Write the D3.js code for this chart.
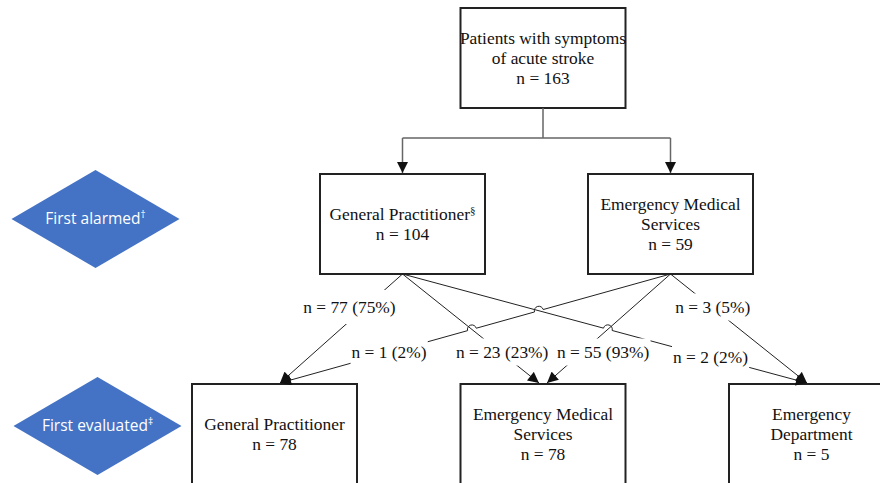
<!DOCTYPE html>
<html>
<head>
<meta charset="utf-8">
<script src="https://cdn.jsdelivr.net/npm/d3@7"></script>
<style>
  html, body { margin: 0; padding: 0; background: #fff; }
  svg { display: block; }
  .serif { font-family: "Liberation Serif", "Times New Roman", Times, "DejaVu Serif", serif; }
  .sans { font-family: "Open Sans", "Noto Sans", sans-serif; }
</style>
</head>
<body>
<script>
// ---------- DATA ----------
const levelNames = ["First alarmed", "First evaluated"];
const levelMarks = ["\u2020", "\u2021"];

const rootLines = ["Patients with symptoms", "of acute stroke"];
const rootN = 163;

const alarmedNames = ["General Practitioner", "Emergency Medical\nServices"];
const alarmedMarks = ["\u00A7", ""];
const alarmedN = [104, 59];

const evaluatedNames = ["General Practitioner", "Emergency Medical\nServices", "Emergency\nDepartment"];
const evaluatedN = [78, 78, 5];

const flowFrom = [0, 0, 0, 1, 1, 1];
const flowTo   = [0, 1, 2, 0, 1, 2];
const flowN    = [77, 23, 2, 1, 55, 3];
const flowPct  = [75, 23, 2, 2, 93, 5];

// ---------- LAYOUT ----------
const W = 880, H = 483;
const boxW = 165, boxH = 100;
const rowTop = d3.scaleOrdinal().domain(["root", "alarmed", "evaluated"]).range([8, 174, 384]);
const rootX = d3.scaleOrdinal().domain([0]).range([543]);
const alarmedX = d3.scaleOrdinal().domain([0, 1]).range([402.5, 670.5]);
const evaluatedX = d3.scaleOrdinal().domain([0, 1, 2]).range([274.5, 543, 811.5]);
const flowTipX = [280, 539, 807, 280, 547, 807];
const flowLabelY = [307, 352, 357, 352, 352, 307];
const flowLabelDx = [-16, 2, 0, -2, 21, 1];
const diamondCx = d3.scaleOrdinal().domain([0, 1]).range([95.5, 97.5]);
const diamondCy = d3.scaleOrdinal().domain([0, 1]).range([219, 426]);
const diamondHW = 84, diamondHH = 49;

const fontSize = 17.4, lineGap = 20;

const svg = d3.select("body").append("svg")
  .attr("width", W).attr("height", H)
  .attr("viewBox", `0 0 ${W} ${H}`);

const defs = svg.append("defs");
defs.append("marker")
  .attr("id", "arrowK")
  .attr("viewBox", "0 0 10 10")
  .attr("refX", 10).attr("refY", 5)
  .attr("markerUnits", "userSpaceOnUse")
  .attr("markerWidth", 12).attr("markerHeight", 11)
  .attr("orient", "auto")
  .append("path").attr("d", "M0,0 L10,5 L0,10 Z").attr("fill", "#111");

// ---------- DIAMONDS ----------
levelNames.forEach((name, i) => {
  const cx = diamondCx(i), cy = diamondCy(i);
  svg.append("path")
    .attr("d", `M${cx - diamondHW},${cy} L${cx},${cy - diamondHH} L${cx + diamondHW},${cy} L${cx},${cy + diamondHH} Z`)
    .attr("fill", "#4472C4");
  const t = svg.append("text")
    .attr("class", "sans")
    .attr("x", cx).attr("y", cy + 5)
    .attr("text-anchor", "middle")
    .attr("font-size", 15.5)
    .attr("fill", "#fff");
  t.append("tspan").text(name);
  t.append("tspan").attr("dy", -6).attr("font-size", 10).text(levelMarks[i]);
});

// ---------- BOXES ----------
function drawBox(cx, top, lines, mark) {
  svg.append("rect")
    .attr("x", cx - boxW / 2).attr("y", top)
    .attr("width", boxW).attr("height", boxH)
    .attr("fill", "#fff").attr("stroke", "#222").attr("stroke-width", 2);
  const cy = top + boxH / 2;
  const y0 = cy - (lines.length - 1) * lineGap / 2;
  lines.forEach((ln, k) => {
    const t = svg.append("text")
      .attr("class", "serif")
      .attr("x", cx).attr("y", y0 + k * lineGap)
      .attr("dy", "0.33em")
      .attr("text-anchor", "middle")
      .attr("font-size", fontSize)
      .attr("fill", "#111");
    t.append("tspan").text(ln);
    if (k === 0 && mark) t.append("tspan").attr("dy", -6).attr("font-size", 11).text(mark);
  });
}

drawBox(rootX(0), rowTop("root"), [...rootLines, `n = ${rootN}`], "");
alarmedNames.forEach((nm, i) => {
  drawBox(alarmedX(i), rowTop("alarmed"), [...nm.split("\n"), `n = ${alarmedN[i]}`], alarmedMarks[i]);
});
evaluatedNames.forEach((nm, i) => {
  drawBox(evaluatedX(i), rowTop("evaluated"), [...nm.split("\n"), `n = ${evaluatedN[i]}`], "");
});

// ---------- ROOT ELBOW CONNECTOR ----------
const rootBottom = rowTop("root") + boxH;
const elbowY = 138;
svg.append("path")
  .attr("d", `M${rootX(0)},${rootBottom} L${rootX(0)},${elbowY} M${alarmedX(0)},${elbowY} L${alarmedX(1)},${elbowY}`)
  .attr("fill", "none").attr("stroke", "#666").attr("stroke-width", 1.5);
alarmedN.forEach((_, i) => {
  svg.append("line")
    .attr("x1", alarmedX(i)).attr("y1", elbowY)
    .attr("x2", alarmedX(i)).attr("y2", rowTop("alarmed") - 1)
    .attr("stroke", "#666").attr("stroke-width", 1.5)
    .attr("marker-end", "url(#arrowK)");
});

// ---------- FLOWS ----------
const srcY = rowTop("alarmed") + boxH;
const tgtY = rowTop("evaluated") - 1;
const segs = flowN.map((n, i) => ({
  i,
  x1: alarmedX(flowFrom[i]), y1: srcY,
  x2: flowTipX[i], y2: tgtY,
  hops: []
}));

function intersect(a, b) {
  const d = (a.x2 - a.x1) * (b.y2 - b.y1) - (a.y2 - a.y1) * (b.x2 - b.x1);
  if (Math.abs(d) < 1e-9) return null;
  const t = ((b.x1 - a.x1) * (b.y2 - b.y1) - (b.y1 - a.y1) * (b.x2 - b.x1)) / d;
  const u = ((b.x1 - a.x1) * (a.y2 - a.y1) - (b.y1 - a.y1) * (a.x2 - a.x1)) / d;
  if (t <= 0.02 || t >= 0.98 || u <= 0.02 || u >= 0.98) return null;
  return { t, u };
}
const slope = s => Math.abs((s.y2 - s.y1) / (s.x2 - s.x1));
for (let a = 0; a < segs.length; a++) {
  for (let b = a + 1; b < segs.length; b++) {
    if (flowFrom[a] === flowFrom[b]) continue;
    const r = intersect(segs[a], segs[b]);
    if (!r) continue;
    const sa = slope(segs[a]), sb = slope(segs[b]);
    if (Math.abs(sa - sb) < 0.05 || sb < sa) segs[b].hops.push(r.u);
    else segs[a].hops.push(r.t);
  }
}

const hopR = 4.5;
segs.forEach(s => {
  const dx = s.x2 - s.x1, dy = s.y2 - s.y1, L = Math.hypot(dx, dy);
  const ux = dx / L, uy = dy / L;
  let str = `M${s.x1},${s.y1}`;
  s.hops.sort((a, b) => a - b).forEach(t => {
    const px = s.x1 + dx * t, py = s.y1 + dy * t;
    const ax = px - ux * hopR, ay = py - uy * hopR;
    const bx = px + ux * hopR, by = py + uy * hopR;
    const sweep = ux > 0 ? 1 : 0;
    str += ` L${ax},${ay} A${hopR},${hopR} 0 0 ${sweep} ${bx},${by}`;
  });
  str += ` L${s.x2},${s.y2}`;
  svg.append("path")
    .attr("d", str)
    .attr("fill", "none").attr("stroke", "#222").attr("stroke-width", 1)
    .attr("marker-end", "url(#arrowK)");
});

segs.forEach(s => {
  const i = s.i;
  const ly = flowLabelY[i];
  const t = (ly - s.y1) / (s.y2 - s.y1);
  const lx = s.x1 + (s.x2 - s.x1) * t + flowLabelDx[i];
  const g = svg.append("g");
  const bg = g.append("rect").attr("fill", "#fff");
  const txt = g.append("text")
    .attr("class", "serif")
    .attr("x", lx).attr("y", ly).attr("dy", "0.33em")
    .attr("text-anchor", "middle")
    .attr("font-size", fontSize)
    .attr("fill", "#111")
    .text(`n = ${flowN[i]} (${flowPct[i]}%)`);
  const bb = txt.node().getBBox();
  const padX = 1, hh = i === 0 ? 17 : 13.5;
  bg.attr("x", bb.x - padX).attr("y", ly - hh)
    .attr("width", bb.width + 2 * padX).attr("height", hh * 2);
});
</script>
</body>
</html>
